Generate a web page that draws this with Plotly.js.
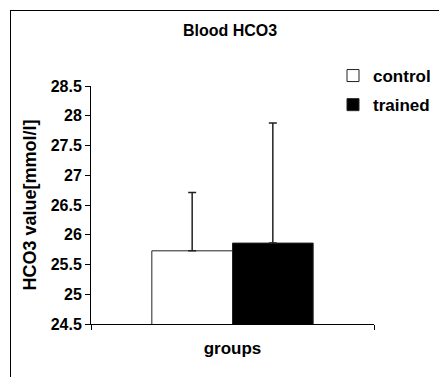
<!DOCTYPE html>
<html>
<head>
<meta charset="utf-8">
<script src="https://cdn.plot.ly/plotly-3.0.1.min.js"></script>
<style>
  html, body { margin: 0; padding: 0; background: #fff; }
  #frame { position: absolute; left: 10px; top: 10px; width: 440px; height: 380px; border-left: 1px solid #000; border-top: 1px solid #000; box-sizing: border-box; }
  #chart { position: absolute; left: 0; top: 0; width: 439px; height: 377px; }
</style>
</head>
<body>
<div id="frame"></div>
<div id="chart"></div>
<script>
// Data
const categories = ["groups"];
const seriesNames = ["control", "trained"];
const controlValues = [25.73];
const controlErrors = [0.98];
const trainedValues = [25.86];
const trainedErrors = [2.02];
const yTickVals = [24.5, 25, 25.5, 26, 26.5, 27, 27.5, 28, 28.5];
const yTickText = ["24.5", "25", "25.5", "26", "26.5", "27", "27.5", "28", "28.5"];

const FONT = "Arial, 'Liberation Sans', sans-serif";

const traces = [
  {
    type: "bar",
    name: seriesNames[0],
    legendgroup: "g1",
    x: categories,
    y: controlValues,
    marker: { color: "#ffffff", line: { color: "#222222", width: 1 } },
    error_y: { type: "data", array: controlErrors, symmetric: false, arrayminus: [0], color: "#222222", thickness: 1.5, width: 4 }
  },
  {
    type: "bar",
    name: seriesNames[1],
    legendgroup: "g2",
    x: categories,
    y: trainedValues,
    marker: { color: "#000000", line: { color: "#222222", width: 1 } },
    error_y: { type: "data", array: trainedErrors, symmetric: false, arrayminus: [0], color: "#222222", thickness: 1.5, width: 4 }
  }
];

const layout = {
  width: 439,
  height: 377,
  paper_bgcolor: "rgba(0,0,0,0)",
  plot_bgcolor: "rgba(0,0,0,0)",
  margin: { l: 91, r: 65, t: 86, b: 53, pad: 0, autoexpand: false },
  barmode: "group",
  bargap: 0.43,
  bargroupgap: 0,
  font: { family: FONT, color: "#000", size: 15 },
  title: {
    text: "<b>Blood HCO3</b>",
    font: { family: FONT, size: 16, color: "#000" },
    xref: "container", yref: "container",
    x: 230 / 439, xanchor: "center",
    y: 1 - 30 / 377, yanchor: "middle"
  },
  showlegend: true,
  legend: {
    x: (333 - 91) / 283, xanchor: "left", xref: "paper",
    y: 1 - (58 - 86) / 238, yanchor: "top",
    font: { family: FONT, size: 17, color: "#000", weight: "bold" },
    bgcolor: "rgba(0,0,0,0)",
    itemwidth: 30,
    tracegroupgap: 4,
    traceorder: "grouped"
  },
  xaxis: {
    type: "category",
    showline: true, linecolor: "#000", linewidth: 1,
    ticks: "outside", tickson: "boundaries", ticklen: 5, tickcolor: "#000",
    showgrid: false, zeroline: false,
    tickfont: { family: FONT, size: 17, color: "#000", weight: "bold" },
    ticklabelstandoff: 9,
    fixedrange: true
  },
  yaxis: {
    range: [24.5, 28.5],
    tickvals: yTickVals,
    ticktext: yTickText,
    showline: true, linecolor: "#000", linewidth: 1,
    ticks: "outside", ticklen: 5, tickcolor: "#000",
    showgrid: false, zeroline: false,
    tickfont: { family: FONT, size: 16, color: "#000", weight: "bold" },
    title: { text: "<b>HCO3 value[mmol/l]</b>", font: { family: FONT, size: 18, color: "#000" }, standoff: 9 },
    fixedrange: true
  }
};

Plotly.newPlot("chart", traces, layout, { displayModeBar: false, staticPlot: true });
</script>
</body>
</html>
